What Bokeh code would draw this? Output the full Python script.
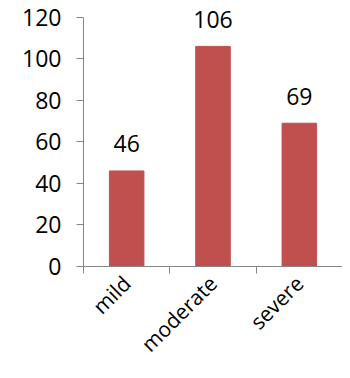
from bokeh.plotting import figure
from bokeh.models import ColumnDataSource, FixedTicker, Range1d, LabelSet
from bokeh.core.properties import value
from bokeh.embed import file_html
from bokeh.resources import INLINE

categories = ["mild", "moderate", "severe"]
counts = [46, 106, 69]
y_ticks = [0, 20, 40, 60, 80, 100, 120]

xs = [i + 0.5 for i in range(len(categories))]
src = ColumnDataSource(dict(x=xs, top=counts, label=[str(c) for c in counts]))

FONT = "Open Sans"
AXIS = "#868686"

p = figure(width=342, height=370, output_backend="svg", toolbar_location=None,
           x_range=Range1d(0, len(categories)), y_range=Range1d(0, 128.1),
           min_border_left=83, min_border_right=0, min_border_top=0, min_border_bottom=102)
p.outline_line_color = None
p.grid.grid_line_color = None

p.vbar(x="x", top="top", width=0.4, bottom=0, source=src, color="#C0504D")
labels = LabelSet(x="x", y="top", text="label", source=src, text_align="center",
                  text_baseline="middle", y_offset=27, text_font=value(FONT),
                  text_font_size=value("23px"), text_color="black")
p.add_layout(labels)

p.yaxis.ticker = FixedTicker(ticks=y_ticks)
p.yaxis.bounds = (0, 120)
p.yaxis.axis_line_color = AXIS
p.yaxis.major_tick_line_color = AXIS
p.yaxis.major_tick_in = 0
p.yaxis.major_tick_out = 7
p.yaxis.minor_tick_line_color = None
p.yaxis.major_label_standoff = 15
p.yaxis.major_label_text_font = FONT
p.yaxis.major_label_text_font_size = "23px"
p.yaxis.major_label_text_color = "black"

p.xaxis.ticker = FixedTicker(ticks=xs, minor_ticks=list(range(len(categories) + 1)))
p.xaxis.major_label_overrides = {x: c for x, c in zip(xs, categories)}
p.xaxis.axis_line_color = AXIS
p.xaxis.major_tick_line_color = None
p.xaxis.minor_tick_line_color = AXIS
p.xaxis.minor_tick_in = 0
p.xaxis.minor_tick_out = 7
p.xaxis.major_label_orientation = 0.785398
p.xaxis.major_label_standoff = 6
p.xaxis.major_label_text_font = FONT
p.xaxis.major_label_text_font_size = "21px"
p.xaxis.major_label_text_color = "black"

open("out.html", "w").write(file_html(p, INLINE))
